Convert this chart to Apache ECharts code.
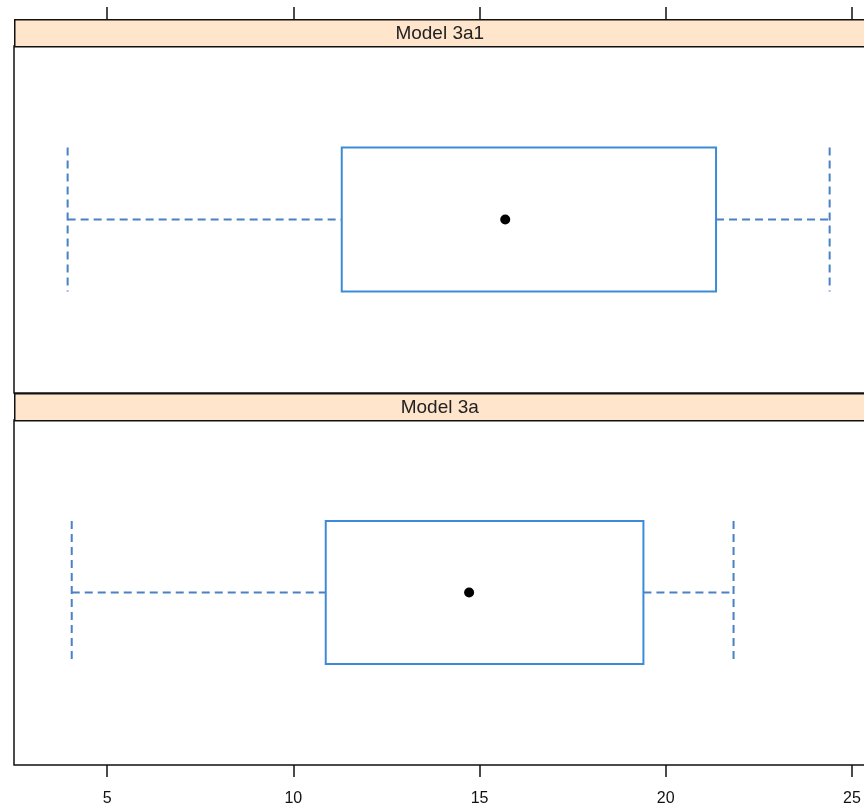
<!DOCTYPE html>
<html>
<head>
<meta charset="utf-8">
<script src="https://cdn.jsdelivr.net/npm/echarts@6/dist/echarts.min.js"></script>
<style>html,body{margin:0;padding:0;background:#fff;}#c{width:864px;height:808px;}</style>
</head>
<body>
<div id="c"></div>
<script>
// ---- data ----
var panels = ['Model 3a1', 'Model 3a'];
var lowWhisker = [3.94, 4.05];
var q1 = [11.30, 10.87];
var median = [15.69, 14.72];
var q3 = [21.35, 19.40];
var highWhisker = [24.40, 21.82];
var tickValues = [5, 10, 15, 20, 25];

// ---- layout ----
var L = 14, R = -4, W = 864 - L - R;
var stripH = 27;
var panelTops = [46, 420];
var panelHs = [347, 345];
var xMin = 2.5, xMax = 25.43;
var boxColor = '#3d8bd6';
var whiskColor = '#4a80c4';
var font = 'Liberation Sans, Arial, sans-serif';

var chart = echarts.init(document.getElementById('c'), null, {renderer: 'canvas'});

function renderBox(params, api) {
  var lo = api.value(0), a = api.value(1), m = api.value(2), b = api.value(3), hi = api.value(4);
  var pLo = api.coord([lo, 0]), pA = api.coord([a, 0]), pM = api.coord([m, 0]),
      pB = api.coord([b, 0]), pHi = api.coord([hi, 0]);
  var y = pM[1];
  var h = api.size([0, 1])[1] * 0.415 / 2;
  var dash = {stroke: whiskColor, lineWidth: 2, lineDash: [8, 5], fill: null};
  return {
    type: 'group',
    children: [
      {type: 'line', shape: {x1: pLo[0], y1: y, x2: pA[0], y2: y}, style: dash},
      {type: 'line', shape: {x1: pB[0], y1: y, x2: pHi[0], y2: y}, style: dash},
      {type: 'line', shape: {x1: pLo[0], y1: y - h, x2: pLo[0], y2: y + h}, style: dash},
      {type: 'line', shape: {x1: pHi[0], y1: y - h, x2: pHi[0], y2: y + h}, style: dash},
      {type: 'rect', shape: {x: pA[0], y: y - h, width: pB[0] - pA[0], height: 2 * h},
        style: {stroke: boxColor, lineWidth: 2, fill: null}},
      {type: 'circle', shape: {cx: pM[0], cy: y, r: 5}, style: {fill: '#000'}}
    ]
  };
}

var grids = [], xAxes = [], yAxes = [], series = [], graphics = [];
panels.forEach(function (name, i) {
  grids.push({left: L, right: R, top: panelTops[i], height: panelHs[i],
    outerBoundsMode: 'none', containLabel: false,
    show: true, borderColor: '#111', borderWidth: 1.5, backgroundColor: '#fff'});
  var isTop = i === 0;
  xAxes.push({
    type: 'value', gridIndex: i, min: xMin, max: xMax,
    position: isTop ? 'top' : 'bottom',
    offset: isTop ? stripH : 0,
    splitLine: {show: false},
    axisLine: {show: false},
    axisTick: {show: true, inside: false, length: 12, customValues: tickValues,
      lineStyle: {color: '#111', width: 1.5}},
    axisLabel: {show: !isTop, customValues: tickValues, color: '#111',
      fontFamily: font, fontSize: 16, margin: 26}
  });
  yAxes.push({type: 'category', gridIndex: i, data: [name], show: false});
  series.push({
    type: 'custom', xAxisIndex: i, yAxisIndex: i,
    renderItem: renderBox,
    encode: {x: [0, 1, 2, 3, 4], y: 5},
    data: [[lowWhisker[i], q1[i], median[i], q3[i], highWhisker[i], 0]],
    z: 5
  });
  graphics.push({
    type: 'group', left: L, top: panelTops[i] - stripH,
    children: [
      {type: 'rect', shape: {x: 0, y: 0, width: W, height: stripH},
        style: {fill: '#ffe5cc', stroke: '#111', lineWidth: 1.5}},
      {type: 'text', x: W / 2 - 2, y: stripH / 2 + 1,
        style: {text: name, fill: '#222', font: '19px ' + font, align: 'center', verticalAlign: 'middle'}}
    ]
  });
});

chart.setOption({
  animation: false,
  backgroundColor: '#fff',
  grid: grids,
  xAxis: xAxes,
  yAxis: yAxes,
  series: series,
  graphic: graphics
});
</script>
</body>
</html>
